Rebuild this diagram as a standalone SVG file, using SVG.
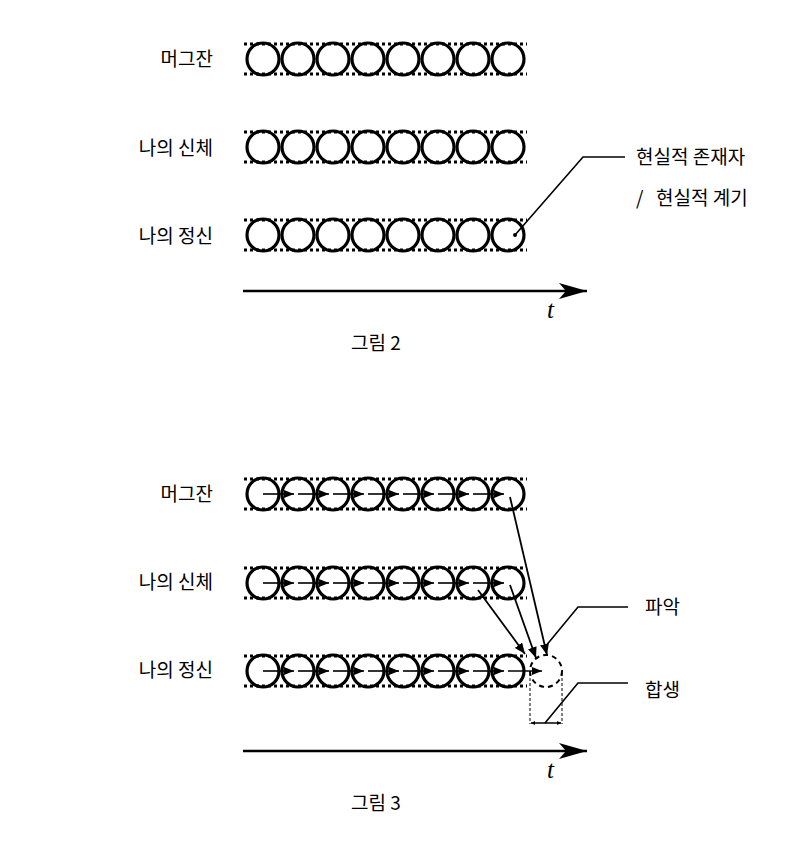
<svg xmlns="http://www.w3.org/2000/svg" width="800" height="861" viewBox="0 0 800 861">
<defs>
<style>
.lbl{font-family:"Noto Sans CJK KR","Noto Sans",sans-serif;font-size:19px;font-weight:400;fill:#000}
.c{fill:none;stroke:#000;stroke-width:3.2}
.dc{fill:none;stroke:#000;stroke-width:2;stroke-dasharray:5 4}
.dot{stroke:#000;stroke-width:3;stroke-dasharray:3 3;fill:none}
.ln{stroke:#000;stroke-width:1.6;fill:none}
.ra{stroke:#000;stroke-width:1.6;fill:none;marker-end:url(#ah)}
.ca{stroke:#000;stroke-width:1.8;fill:none;marker-end:url(#ch)}
.ax{stroke:#000;stroke-width:2.5;fill:none;marker-end:url(#axh)}
.dim{stroke:#000;stroke-width:1;stroke-dasharray:3 2;fill:none}
.t{font-family:"Liberation Serif",serif;font-style:italic;font-size:25px;fill:#000}
</style>
<marker id="ah" viewBox="0 0 10 8" refX="10" refY="4" markerWidth="10" markerHeight="8" markerUnits="userSpaceOnUse" orient="auto"><path d="M0,0 L10,4 L0,8 Z"/></marker>
<marker id="ch" viewBox="0 0 11 9" refX="11" refY="4.5" markerWidth="11" markerHeight="9" markerUnits="userSpaceOnUse" orient="auto"><path d="M0,0 L11,4.5 L0,9 Z"/></marker>
<marker id="axh" viewBox="0 0 28 16" refX="28" refY="8" markerWidth="28" markerHeight="16" markerUnits="userSpaceOnUse" orient="auto"><path d="M0,0 L28,8 L0,16 L7,8 Z"/></marker>
<marker id="dh" viewBox="0 0 4 4" refX="4" refY="2" markerWidth="4" markerHeight="4" markerUnits="userSpaceOnUse" orient="auto-start-reverse"><path d="M0,0 L4,2 L0,4 Z"/></marker>
<g id="row">
<line class="dot" x1="244" y1="-15" x2="527" y2="-15"/>
<line class="dot" x1="244" y1="15" x2="527" y2="15"/>
<circle class="c" cx="263" cy="0" r="16"/>
<circle class="c" cx="298" cy="0" r="16"/>
<circle class="c" cx="333" cy="0" r="16"/>
<circle class="c" cx="368" cy="0" r="16"/>
<circle class="c" cx="403" cy="0" r="16"/>
<circle class="c" cx="438" cy="0" r="16"/>
<circle class="c" cx="473" cy="0" r="16"/>
<circle class="c" cx="508" cy="0" r="16"/>
</g>
<g id="rowarrows">
<line class="ra" x1="263" y1="0" x2="294" y2="0"/>
<line class="ra" x1="298" y1="0" x2="329" y2="0"/>
<line class="ra" x1="333" y1="0" x2="364" y2="0"/>
<line class="ra" x1="368" y1="0" x2="399" y2="0"/>
<line class="ra" x1="403" y1="0" x2="434" y2="0"/>
<line class="ra" x1="438" y1="0" x2="469" y2="0"/>
<line class="ra" x1="473" y1="0" x2="504" y2="0"/>
</g>
</defs>

<!-- Figure 2 -->
<g id="fig2-mug">
<text class="lbl" x="213" y="66" text-anchor="end">머그잔</text>
<use href="#row" transform="translate(0,59)"/>
</g>
<g id="fig2-body">
<text class="lbl" x="213" y="155" text-anchor="end">나의 신체</text>
<use href="#row" transform="translate(0,147)"/>
</g>
<g id="fig2-mind">
<text class="lbl" x="213" y="243" text-anchor="end">나의 정신</text>
<use href="#row" transform="translate(0,235)"/>
</g>
<g id="fig2-label">
<text class="lbl" x="636" y="164">현실적 존재자</text>
<text class="lbl" x="636" y="205">/<tspan x="656">현실적 계기</tspan></text>
</g>
<g id="fig2-axis">
<line class="ax" x1="243" y1="291" x2="587" y2="291"/>
<text class="t" x="547" y="318">t</text>
<text class="lbl" x="351" y="350">그림 2</text>
</g>
<g id="fig2-connectors">
<circle cx="515" cy="235" r="2" fill="#000"/>
<polyline class="ln" points="515,235 583,157 625,157"/>
</g>

<!-- Figure 3 -->
<g id="fig3-mug">
<text class="lbl" x="213" y="501" text-anchor="end">머그잔</text>
<use href="#row" transform="translate(0,494)"/>
</g>
<g id="fig3-body">
<text class="lbl" x="213" y="589" text-anchor="end">나의 신체</text>
<use href="#row" transform="translate(0,583)"/>
</g>
<g id="fig3-mind">
<text class="lbl" x="213" y="677" text-anchor="end">나의 정신</text>
<use href="#row" transform="translate(0,671)"/>
</g>
<g id="fig3-new">
<circle class="dc" cx="546" cy="671" r="16"/>
<line class="dim" x1="530" y1="673" x2="530" y2="724"/>
<line class="dim" x1="562" y1="673" x2="562" y2="724"/>
<line stroke="#000" stroke-width="1.5" x1="531" y1="723" x2="561" y2="723" marker-start="url(#dh)" marker-end="url(#dh)"/>
</g>
<g id="fig3-labels">
<text class="lbl" x="645" y="614">파악</text>
<text class="lbl" x="645" y="697">합생</text>
</g>
<g id="fig3-axis">
<line class="ax" x1="243" y1="751" x2="587" y2="751"/>
<text class="t" x="547" y="778">t</text>
<text class="lbl" x="351" y="810">그림 3</text>
</g>
<g id="fig3-connectors">
<use href="#rowarrows" transform="translate(0,494)"/>
<use href="#rowarrows" transform="translate(0,583)"/>
<use href="#rowarrows" transform="translate(0,671)"/>
<line class="ra" x1="508" y1="671" x2="542" y2="671"/>
<line class="ca" x1="510" y1="497" x2="547" y2="655"/>
<line class="ca" x1="510" y1="585" x2="536" y2="658"/>
<line class="ca" x1="478" y1="590" x2="525" y2="654"/>
<polyline class="ln" points="545,647 578,607 628,607"/>
<polyline class="ln" points="545,723 578,683 628,683"/>
</g>
</svg>
